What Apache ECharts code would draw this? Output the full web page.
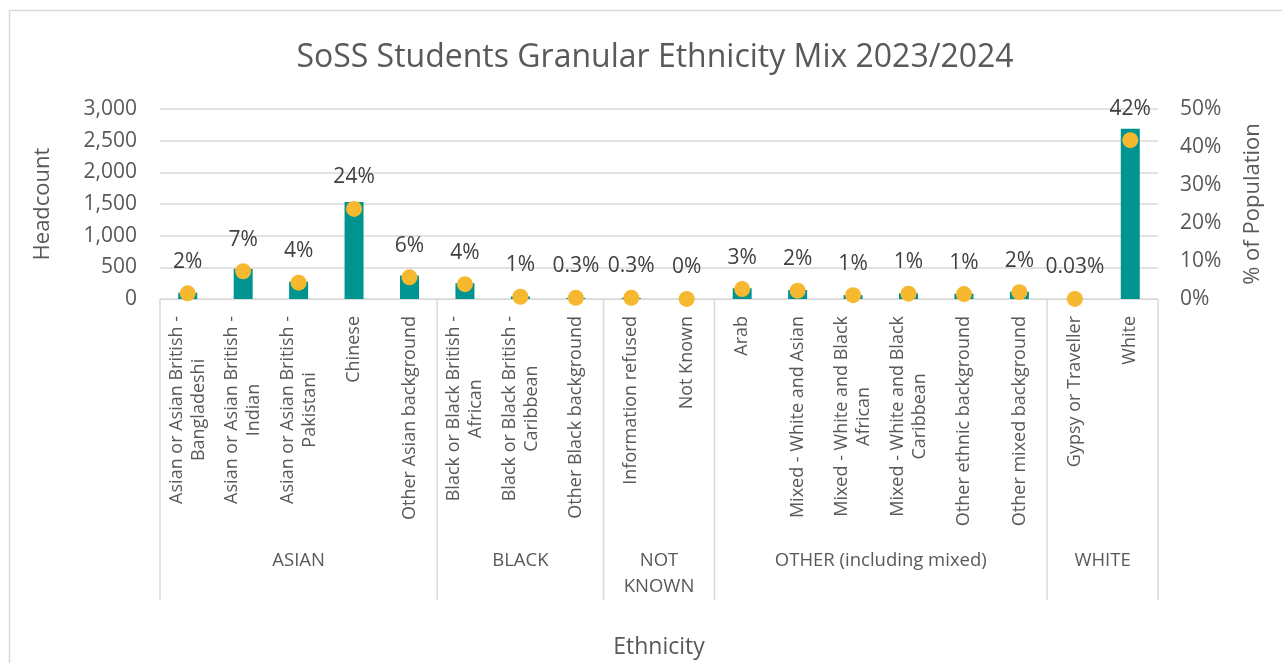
<!DOCTYPE html>
<html>
<head>
<meta charset="utf-8">
<script src="https://cdn.jsdelivr.net/npm/echarts@6/dist/echarts.min.js"></script>
<style>
html,body{margin:0;padding:0;background:#fff;}
#chart{width:1282px;height:663px;}
</style>
</head>
<body>
<div id="chart"></div>
<script>
// ---- data ----
const categories = [
  'Asian or Asian British -\nBangladeshi',
  'Asian or Asian British -\nIndian',
  'Asian or Asian British -\nPakistani',
  'Chinese',
  'Other Asian background',
  'Black or Black British -\nAfrican',
  'Black or Black British -\nCaribbean',
  'Other Black background',
  'Information refused',
  'Not Known',
  'Arab',
  'Mixed - White and Asian',
  'Mixed - White and Black\nAfrican',
  'Mixed - White and Black\nCaribbean',
  'Other ethnic background',
  'Other mixed background',
  'Gypsy or Traveller',
  'White'
];
const groups = ['ASIAN', 'BLACK', 'NOT\nKNOWN', 'OTHER (including mixed)', 'WHITE'];
const groupCenters = [2.5, 6.5, 9, 13, 17];
const groupBounds = [0, 5, 8, 10, 16, 18];
const headcount = [100, 475, 275, 1530, 370, 250, 40, 18, 18, 2, 170, 142, 62, 90, 85, 115, 2, 2690];
const pctPopulation = [1.5, 7.3, 4.3, 23.7, 5.7, 3.9, 0.6, 0.3, 0.3, 0.03, 2.6, 2.2, 1.0, 1.4, 1.3, 1.8, 0.03, 41.8];
const pctLabels = ['2%', '7%', '4%', '24%', '6%', '4%', '1%', '0.3%', '0.3%', '0%', '3%', '2%', '1%', '1%', '1%', '2%', '0.03%', '42%'];
const leftTicks = [0, 500, 1000, 1500, 2000, 2500, 3000];
const rightTicks = [0, 10, 20, 30, 40, 50];

const FONT = 'Open Sans';
const TXT = '#595959';

const chart = echarts.init(document.getElementById('chart'));
chart.setOption({
  animation: false,
  textStyle: { fontFamily: FONT },
  graphic: [{
    type: 'rect', shape: { x: 9.5, y: 10.5, width: 1290, height: 670 },
    style: { fill: 'none', stroke: '#d9d9d9', lineWidth: 1.5 }, silent: true, z: -1
  }],
  title: {
    text: 'SoSS Students Granular Ethnicity Mix 2023/2024',
    left: 650, top: 37, textAlign: 'center',
    textStyle: { fontFamily: FONT, fontSize: 32, fontWeight: 'normal', color: TXT }
  },
  grid: { left: 160, right: 124, top: 109, bottom: 364, containLabel: false },
  xAxis: [{
    type: 'category', data: categories, position: 'bottom',
    axisLine: { show: true, lineStyle: { color: '#d9d9d9', width: 1 } },
    axisTick: { show: false },
    axisLabel: {
      interval: 0, rotate: 90, margin: 17,
      fontFamily: FONT, fontSize: 18, color: TXT, lineHeight: 22,
      formatter: v => v.split('\n').map(s => '{c|' + s + '}').join('\n'),
      rich: { c: { align: 'center', fontFamily: FONT, fontSize: 18, color: TXT, lineHeight: 22 } }
    }
  }, {
    type: 'value', min: 0, max: 18, interval: 0.5, position: 'bottom',
    axisLine: { show: false }, axisTick: { show: false }, splitLine: { show: false },
    axisLabel: {
      margin: 249, fontFamily: FONT, fontSize: 18.5, color: TXT, lineHeight: 26,
      formatter: v => { const i = groupCenters.indexOf(v); return i >= 0 ? groups[i] : ''; }
    },
    name: 'Ethnicity', nameLocation: 'middle', nameGap: 337,
    nameTextStyle: { fontFamily: FONT, fontSize: 23, color: TXT }
  }],
  yAxis: [{
    type: 'value', min: leftTicks[0], max: leftTicks[leftTicks.length - 1], interval: 500,
    axisLine: { show: false }, axisTick: { show: false },
    splitLine: { lineStyle: { color: '#d9d9d9', width: 1.5 } },
    axisLabel: { fontFamily: FONT, fontSize: 21, color: TXT, margin: 23,
      formatter: v => v.toLocaleString('en-US') },
    name: 'Headcount', nameLocation: 'middle', nameGap: 106, nameRotate: 90,
    nameTextStyle: { fontFamily: FONT, fontSize: 22, color: TXT }
  }, {
    type: 'value', min: rightTicks[0], max: rightTicks[rightTicks.length - 1], interval: 10,
    axisLine: { show: false }, axisTick: { show: false }, splitLine: { show: false },
    axisLabel: { fontFamily: FONT, fontSize: 21, color: TXT, margin: 22, formatter: v => v + '%' },
    name: '% of Population', nameLocation: 'middle', nameGap: 84, nameRotate: 90,
    nameTextStyle: { fontFamily: FONT, fontSize: 22, color: TXT }
  }],
  series: [{
    type: 'bar', data: headcount, xAxisIndex: 0, yAxisIndex: 0, barWidth: 19,
    itemStyle: { color: '#009490' }, z: 2
  }, {
    type: 'scatter', data: pctPopulation, xAxisIndex: 0, yAxisIndex: 1,
    symbol: 'circle', symbolSize: 16, itemStyle: { color: '#F5B82E', opacity: 1 }, z: 3,
    label: {
      show: true, position: 'top', distance: 13,
      fontFamily: FONT, fontSize: 21, color: '#404040',
      formatter: p => pctLabels[p.dataIndex]
    }
  }, {
    type: 'custom', xAxisIndex: 1, yAxisIndex: 0, data: groupBounds, clip: false, silent: true,
    renderItem: (params, api) => {
      const p = api.coord([api.value(0), 0]);
      return { type: 'line', shape: { x1: p[0], y1: p[1], x2: p[0], y2: p[1] + 301 },
        style: { stroke: '#d9d9d9', lineWidth: 1.5 } };
    }
  }]
});
</script>
</body>
</html>
